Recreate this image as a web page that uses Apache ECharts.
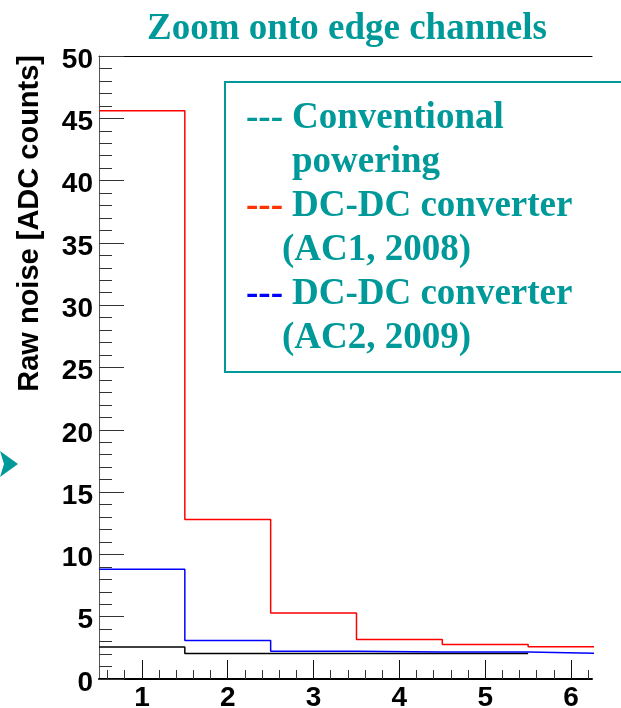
<!DOCTYPE html>
<html>
<head>
<meta charset="utf-8">
<script src="https://cdn.jsdelivr.net/npm/echarts@6/dist/echarts.min.js"></script>
<style>
  html, body { margin: 0; padding: 0; background: #fff; }
  #chart { width: 621px; height: 708px; }
</style>
</head>
<body>
<div id="chart"></div>
<script>
// Strip channel numbers (bin centres, bin width 1)
const channels = [1, 2, 3, 4, 5, 6];

// Raw noise per edge channel [ADC counts]
const conventionalNoise = [2.56, 2.05, 2.05, 2.05, 2.05];
const dcdcAC1Noise = [45.6, 12.8, 5.3, 3.17, 2.77, 2.59];
const dcdcAC2Noise = [8.81, 3.09, 2.23, 2.16, 2.16, 2.05];

// Axis tick labels
const xTickLabels = [1, 2, 3, 4, 5, 6];
const yTickLabels = [0, 5, 10, 15, 20, 25, 30, 35, 40, 45, 50];

// Legend entries (each entry wraps onto a second line)
const legendFirstLines = ['Conventional', 'DC-DC converter', 'DC-DC converter'];
const legendSecondLines = ['powering', '(AC1, 2008)', '(AC2, 2009)'];

const TEAL = '#009999';
const X_MIN = 0.5, X_MAX = 6.244;

// Turn per-bin values into step points at the bin edges
function histogramSteps(values) {
  const pts = values.map((v, i) => [channels[i] - 0.5, v]);
  const last = values.length - 1;
  pts.push([channels[last] + 0.5, values[last]]);
  return pts;
}

// Minor x ticks every 0.2 between the labelled channels
const xMinor = [];
for (let k = 3; k <= 31; k++) {
  const v = Math.round(k * 0.2 * 10) / 10;
  if (Math.abs(v - Math.round(v)) > 1e-6) xMinor.push(v);
}

const chart = echarts.init(document.getElementById('chart'), null, { renderer: 'canvas' });

const SANS = '"Liberation Sans", Arial, sans-serif';
const SERIF = '"Liberation Serif", "Times New Roman", serif';
const legendFont = 'bold 37px ' + SERIF;
const dashColors = [TEAL, '#ff3300', '#0000ff'];

// Legend box and its text lines
const legendElems = [{
  type: 'rect', z: 10,
  shape: { x: 225, y: 82, width: 420, height: 290 },
  style: { fill: '#fff', stroke: TEAL, lineWidth: 2 }
}];
const firstY = [118, 206, 294];
const secondY = [162, 250, 338];
const secondX = [292, 282, 282];
for (let i = 0; i < legendFirstLines.length; i++) {
  legendElems.push({
    type: 'text', z: 11, x: 246, y: firstY[i],
    style: { text: '---', font: legendFont, fill: dashColors[i], textVerticalAlign: 'middle' }
  });
  legendElems.push({
    type: 'text', z: 11, x: 292, y: firstY[i],
    style: { text: legendFirstLines[i], font: legendFont, fill: TEAL, textVerticalAlign: 'middle' }
  });
  legendElems.push({
    type: 'text', z: 11, x: secondX[i], y: secondY[i],
    style: { text: legendSecondLines[i], font: legendFont, fill: TEAL, textVerticalAlign: 'middle' }
  });
}

const tickLabelRich = {
  v: { fontFamily: SANS, fontWeight: 'bold', fontSize: 28, color: '#000', padding: [8, 0, 0, 0] }
};

chart.setOption({
  animation: false,
  backgroundColor: '#fff',
  title: {
    text: 'Zoom onto edge channels',
    left: 342, top: 6, textAlign: 'center',
    textStyle: { fontFamily: SERIF, fontWeight: 'bold', fontSize: 37, color: TEAL }
  },
  grid: { left: 99, right: 29, top: 56, bottom: 29, containLabel: false, outerBoundsMode: 'none' },
  xAxis: [
    {
      type: 'value', min: X_MIN, max: X_MAX, position: 'bottom',
      axisLine: { show: true, lineStyle: { color: '#000', width: 2 } },
      axisTick: { show: true, inside: true, length: 19, customValues: xTickLabels, lineStyle: { color: '#111', width: 1 } },
      axisLabel: {
        show: true, margin: 5, customValues: xTickLabels,
        fontFamily: SANS, fontWeight: 'bold', fontSize: 28, color: '#000'
      },
      splitLine: { show: false }
    },
    {
      type: 'value', min: X_MIN, max: X_MAX, position: 'bottom', offset: 0,
      axisLine: { show: false },
      axisTick: { show: true, inside: true, length: 9, customValues: xMinor, lineStyle: { color: '#333', width: 1 } },
      axisLabel: { show: false },
      splitLine: { show: false }
    },
    {
      type: 'value', min: X_MIN, max: X_MAX, position: 'top', offset: 0,
      axisLine: { show: true, lineStyle: { color: '#000', width: 1 } },
      axisTick: { show: false },
      axisLabel: { show: false },
      splitLine: { show: false }
    }
  ],
  yAxis: {
    type: 'value', min: 0, max: 50, interval: 5,
    axisLine: { show: true, lineStyle: { color: '#555', width: 1 } },
    axisTick: { show: true, inside: true, length: 25, lineStyle: { color: '#333', width: 1 } },
    minorTick: { show: true, splitNumber: 5, length: 13, lineStyle: { color: '#333', width: 1 } },
    axisLabel: {
      show: true, margin: 6, customValues: yTickLabels,
      formatter: v => '{v|' + v + '}',
      rich: tickLabelRich
    },
    splitLine: { show: false }
  },
  series: [
    {
      name: 'Conventional powering', type: 'line', step: 'end', xAxisIndex: 0,
      data: histogramSteps(conventionalNoise), showSymbol: false, clip: true,
      lineStyle: { color: '#000', width: 1.5 }, z: 2
    },
    {
      name: 'DC-DC converter (AC2, 2009)', type: 'line', step: 'end', xAxisIndex: 0,
      data: histogramSteps(dcdcAC2Noise), showSymbol: false, clip: true,
      lineStyle: { color: '#0000ff', width: 1.5 }, z: 3
    },
    {
      name: 'DC-DC converter (AC1, 2008)', type: 'line', step: 'end', xAxisIndex: 0,
      data: histogramSteps(dcdcAC1Noise), showSymbol: false, clip: true,
      lineStyle: { color: '#ff0000', width: 1.5 }, z: 4
    }
  ],
  graphic: [
    // y-axis title, reading bottom to top
    {
      type: 'text', x: 30, y: 55, rotation: Math.PI / 2,
      style: {
        text: 'Raw noise [ADC counts]',
        font: 'bold 29px ' + SANS,
        fill: '#000', textAlign: 'right', textVerticalAlign: 'middle'
      }
    },
    // arrowhead pointing at the axis
    {
      type: 'polygon',
      shape: { points: [[0, 451], [18, 464], [0, 477], [4, 464]] },
      style: { fill: TEAL }
    }
  ].concat(legendElems)
});
</script>
</body>
</html>
